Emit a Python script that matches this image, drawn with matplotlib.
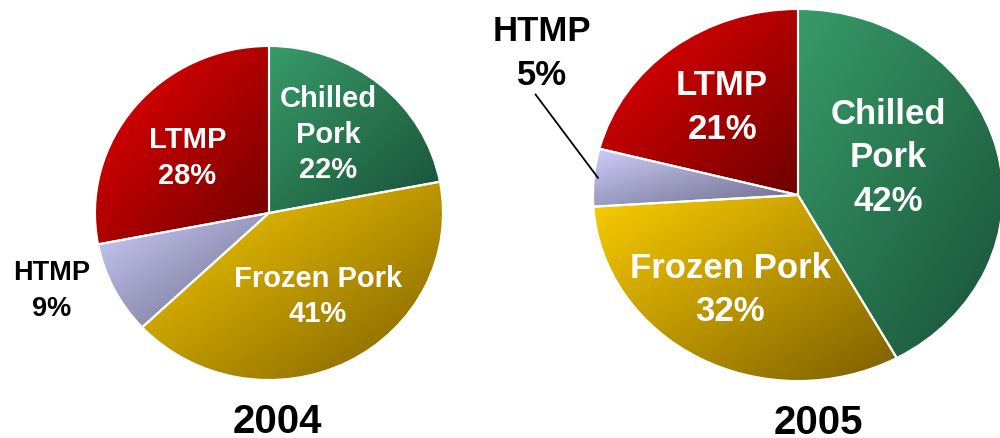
import numpy as np
import matplotlib

matplotlib.use("Agg")
import matplotlib.pyplot as plt
from matplotlib.colors import LinearSegmentedColormap

plt.rcParams["font.family"] = ["Liberation Sans", "DejaVu Sans"]
plt.rcParams["font.weight"] = "bold"

# Data
categories = ["Chilled Pork", "Frozen Pork", "HTMP", "LTMP"]
shares_2004 = [22, 41, 9, 28]
shares_2005 = [42, 32, 5, 21]
years = ["2004", "2005"]

# light (top-left) -> dark (bottom-right) colours for each slice
light_colors = ["#379b69", "#facd00", "#cdcdfa", "#f00000"]
dark_colors = ["#195037", "#7d5f00", "#696987", "#6e0000"]

W, H = 1000, 438
fig = plt.figure(figsize=(W / 100, H / 100), dpi=100)


def pixel_axes(cx, cy, rx, ry):
    """Axes whose unit square covers an ellipse centred at pixel (cx, cy)."""
    ax = fig.add_axes([(cx - rx) / W, (H - cy - ry) / H, 2 * rx / W, 2 * ry / H])
    ax.axis("off")
    return ax


def gradient_pie(ax, shares):
    wedges, _ = ax.pie(shares, startangle=90, counterclock=False, radius=1,
                       wedgeprops=dict(edgecolor="white", linewidth=1.5))
    n = 200
    xx, yy = np.meshgrid(np.linspace(0, 1, n), np.linspace(0, 1, n))
    grad = (xx + yy) / 2
    for wedge, c0, c1 in zip(wedges, light_colors, dark_colors):
        verts = wedge.get_path().transformed(wedge.get_patch_transform()).vertices
        x0, y0 = verts.min(axis=0)
        x1, y1 = verts.max(axis=0)
        cmap = LinearSegmentedColormap.from_list("g", [c0, c1])
        im = ax.imshow(grad, cmap=cmap, extent=(x0, x1, y0, y1), origin="upper",
                       aspect="auto", zorder=1, interpolation="bilinear")
        im.set_clip_path(wedge)
        wedge.set_facecolor("none")
        wedge.set_zorder(3)
    ax.set_xlim(-1, 1)
    ax.set_ylim(-1, 1)
    ax.set_aspect("auto")
    return wedges


def pct(v):
    return f"{v}%"


# 2004 pie
ax1 = pixel_axes(269, 213, 174, 167)
gradient_pie(ax1, shares_2004)
fs1, ls1 = 21, 1.35
ax1.text(0.34, 0.47, f"Chilled\nPork\n{pct(shares_2004[0])}", color="white", fontsize=fs1,
         ha="center", va="center", linespacing=ls1, zorder=5)
ax1.text(0.28, -0.50, f"Frozen Pork\n{pct(shares_2004[1])}", color="white", fontsize=fs1,
         ha="center", va="center", linespacing=ls1, zorder=5)
ax1.text(-0.47, 0.33, f"LTMP\n{pct(shares_2004[3])}", color="white", fontsize=fs1,
         ha="center", va="center", linespacing=ls1, zorder=5)
ax1.text(-1.25, -0.47, f"HTMP\n{pct(shares_2004[2])}", color="black", fontsize=19.5,
         ha="center", va="center", linespacing=1.5, zorder=5)
ax1.text(0.05, -1.25, years[0], color="black", fontsize=29, ha="center", va="center")

# 2005 pie
ax2 = pixel_axes(798, 195, 205, 186)
w2 = gradient_pie(ax2, shares_2005)
fs2, ls2 = 25, 1.4
ax2.text(0.44, 0.20, f"Chilled\nPork\n{pct(shares_2005[0])}", color="white", fontsize=fs2,
         ha="center", va="center", linespacing=ls2, zorder=5)
ax2.text(-0.33, -0.51, f"Frozen Pork\n{pct(shares_2005[1])}", color="white", fontsize=fs2,
         ha="center", va="center", linespacing=ls2, zorder=5)
ax2.text(-0.37, 0.47, f"LTMP\n{pct(shares_2005[3])}", color="white", fontsize=fs2,
         ha="center", va="center", linespacing=ls2, zorder=5)
ax2.text(-1.25, 0.76, f"HTMP\n{pct(shares_2005[2])}", color="black", fontsize=fs2,
         ha="center", va="center", linespacing=ls2, zorder=5)
# leader line from the small HTMP slice to its label
htmp = w2[2]
mid = np.deg2rad((htmp.theta1 + htmp.theta2) / 2)
ax2.plot([np.cos(mid) * 0.98, -1.28], [np.sin(mid) * 0.98, 0.54], color="black",
         linewidth=1.3, clip_on=False, zorder=6)
ax2.text(0.10, -1.225, years[1], color="black", fontsize=29, ha="center", va="center")

fig.savefig("out.png", dpi=100)
